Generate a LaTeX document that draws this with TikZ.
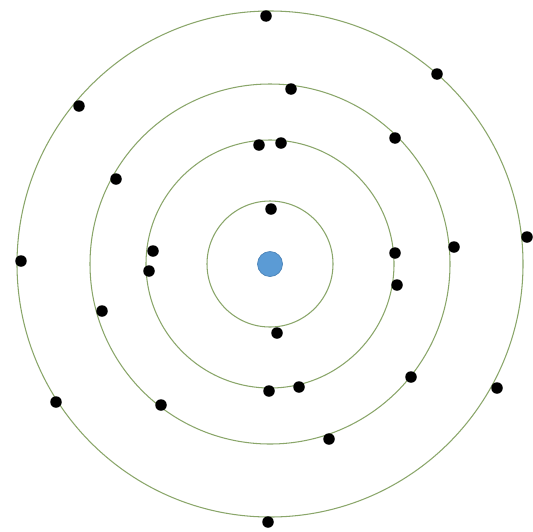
\documentclass[tikz,border=0pt]{standalone}
\usepackage{tikz}
\usetikzlibrary{positioning}
\definecolor{orbitline}{HTML}{8AA66A}
\definecolor{nucfill}{HTML}{5B9BD5}
\definecolor{nucdraw}{HTML}{4A83B8}
\begin{document}
\begin{tikzpicture}[x=0.02cm,y=-0.02cm,
    orbit/.style={draw=orbitline,line width=0.6pt},
    particle/.style={circle,fill=black,inner sep=0pt,minimum size=0.23cm}]
        \useasboundingbox (0,0) rectangle (533,531);
        \fill[white] (0,0) rectangle (533,531);
        \coordinate (centre) at (270,264);
        \foreach \r in {63,124,180,253}
          \draw[orbit] (centre) circle[radius=\r];
        \node[circle,fill=nucfill,draw=nucdraw,thin,inner sep=0pt,minimum size=0.5cm] (nucleus) at (centre) {};
        \foreach \n/\p in {a/{(266,16)},b/{(437,74)},c/{(79,106)},d/{(291,89)},e/{(395,138)},f/{(259,145)},g/{(281,143)},h/{(116,179)},i/{(271,209)},j/{(153,251)},k/{(149,271)},l/{(21,261)},m/{(395,253)},n/{(454,247)},o/{(527,237)},p/{(397,285)},q/{(102,311)},r/{(277,333)},s/{(56,402)},t/{(161,405)},u/{(269,391)},v/{(299,387)},w/{(411,377)},x/{(497,388)},y/{(329,439)},z/{(268,522)}}
          \node[particle] (dot\n) at \p {};
      \end{tikzpicture}
\end{document}
